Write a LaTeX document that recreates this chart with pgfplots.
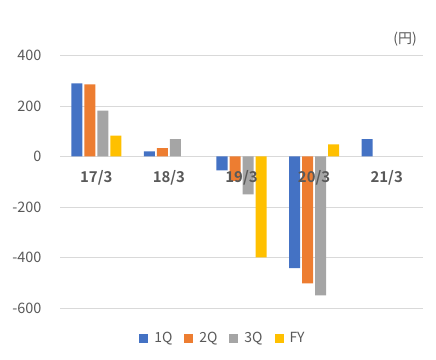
\documentclass[border=0pt]{standalone}
\usepackage{pgfplots}
\pgfplotsset{compat=1.18}
\usepackage{fontspec}
\setmainfont{Noto Sans CJK JP}
\newfontfamily\catfont{Noto Sans CJK JP}[BoldFont={* Bold}]
\definecolor{c1}{HTML}{4472C4}
\definecolor{c2}{HTML}{ED7D31}
\definecolor{c3}{HTML}{A5A5A5}
\definecolor{c4}{HTML}{FFC000}
\definecolor{txt}{HTML}{595959}
\definecolor{grd}{HTML}{D9D9D9}
\begin{document}
\begin{tikzpicture}
\begin{axis}[
  at={(60bp,52bp)}, anchor=south west,
  scale only axis,
  width=363bp, height=252.5bp,
  xmin=-0.5, xmax=4.5,
  ymin=-600, ymax=400,
  ytick={-600,-400,...,400},
  xtick={0,1,2,3,4},
  xticklabels={},
  axis x line*=middle,
  axis y line*=left,
  x axis line style={draw=grd, line width=0.8bp},
  y axis line style={draw=none},
  major tick length=0pt,
  ymajorgrids,
  grid style={draw=grd, line width=0.8bp},
  yticklabel style={font=\fontsize{14.5}{16}\selectfont, text=txt, anchor=east, xshift=-15bp},
  /pgf/number format/assume math mode=true,
  ybar=2bp, bar width=11bp,
  legend style={at={(0.449,-0.119)}, anchor=center, draw=none, fill=none,
    legend columns=4, font=\fontsize{14}{16}\selectfont, text=txt,
    /tikz/every odd column/.append style={column sep=4bp},
    /tikz/every even column/.append style={column sep=10bp}},
  legend image code/.code={\fill[#1] (0bp,-4.5bp) rectangle (9bp,4.5bp);},
  clip=false,
]
\addplot[fill=c1, draw=none] coordinates {(0,290) (1,20) (2,-55) (3,-442) (4,69)};
\addplot[fill=c2, draw=none] coordinates {(0,286) (1,33) (2,-97) (3,-502)};
\addplot[fill=c3, draw=none] coordinates {(0,182) (1,69) (2,-150) (3,-550)};
\addplot[fill=c4, draw=none] coordinates {(0,83) (2,-400) (3,48)};
\legend{1Q,2Q,3Q,FY}
\begin{scope}[every node/.style={font=\catfont\bfseries\fontsize{15}{17}\selectfont, text=txt, anchor=center, yshift=-21bp, inner sep=0pt}]
\node at (axis cs:0,0) {17/3};
\node at (axis cs:1,0) {18/3};
\node at (axis cs:2,0) {19/3};
\node at (axis cs:3,0) {20/3};
\node at (axis cs:4,0) {21/3};
\end{scope}
\end{axis}
\node[anchor=east, text=txt, font=\fontsize{14}{16}\selectfont, inner sep=0pt] at (417bp,321bp) {(円)};
\pgfresetboundingbox
\useasboundingbox (0,0) rectangle (436bp,360bp);
\end{tikzpicture}
\end{document}
